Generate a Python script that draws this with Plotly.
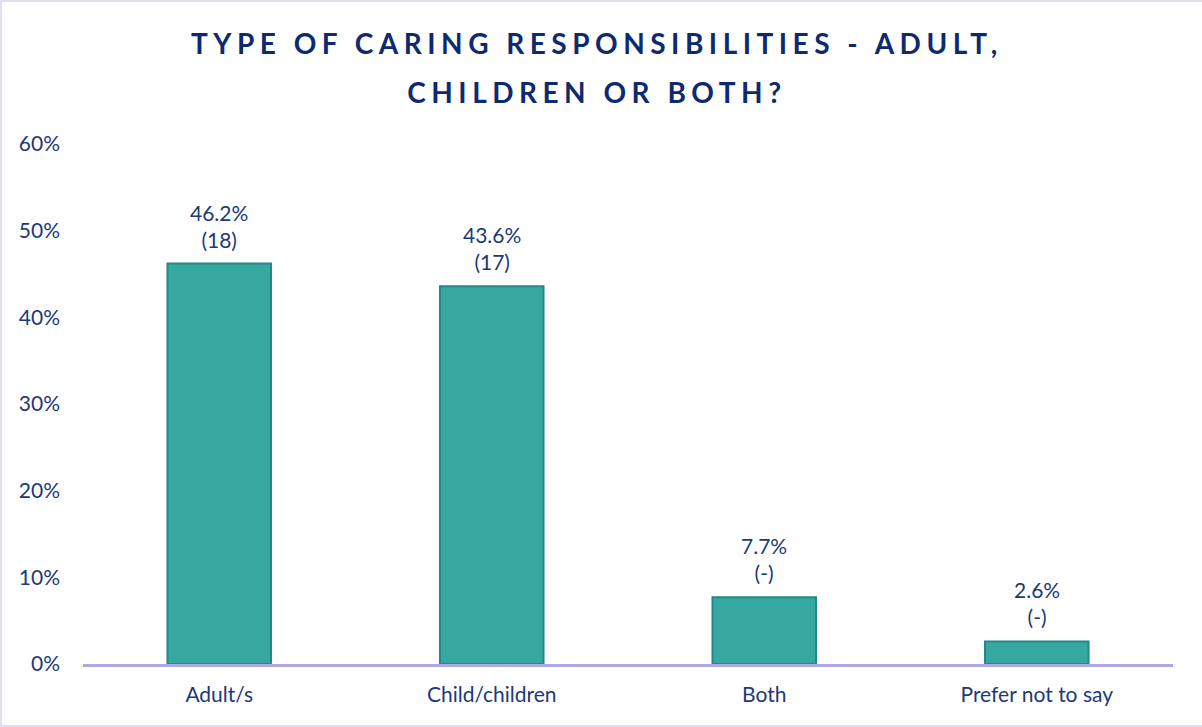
import plotly.graph_objects as go

categories = ["Adult/s", "Child/children", "Both", "Prefer not to say"]
percent_values = [46.2, 43.6, 7.7, 2.6]
counts = ["18", "17", "-", "-"]
y_tick_values = [0, 10, 20, 30, 40, 50, 60]
y_tick_labels = ["0%", "10%", "20%", "30%", "40%", "50%", "60%"]
title_lines = ["TYPE OF CARING RESPONSIBILITIES - ADULT,", "CHILDREN OR BOTH?"]

W, H = 1202, 727
ml, mr, mt, mb = 83, 29, 144, 63
pw = W - ml - mr
ph = H - mt - mb

text_color = "#1c3978"
title_color = "#0d2a6f"
font_family = "Lato, 'Open Sans', sans-serif"

fig = go.Figure(
    go.Bar(
        x=categories,
        y=percent_values,
        marker=dict(color="#36a89f", line=dict(color="#22898a", width=2)),
        width=0.38,
        hoverinfo="skip",
    )
)

# value labels above bars
for cat, v, c in zip(categories, percent_values, counts):
    fig.add_annotation(
        x=cat, y=v, xref="x", yref="y",
        text=f"{v}%<br>({c})", showarrow=False,
        yanchor="bottom", yshift=10,
        font=dict(size=21, color=text_color, family=font_family),
    )

# title lines
for i, line in enumerate(title_lines):
    py = 43 + 49 * i  # pixel centre from top
    fig.add_annotation(
        xref="paper", yref="paper",
        x=0.5 + (W / 2 - ml - pw / 2) / pw - 4 / pw, y=1 + (mt - py) / ph,
        text=f"<b>{line}</b>", showarrow=False,
        xanchor="center", yanchor="middle",
        font=dict(size=28, color=title_color, family=font_family),
    )

# outer border (left, top, bottom visible)
fig.add_shape(
    type="rect", xref="paper", yref="paper",
    x0=(1 - ml) / pw, x1=(W + 2 - ml) / pw,
    y0=-(mb - 1) / ph, y1=1 + (mt - 1) / ph,
    line=dict(color="#d8d4f0", width=1.5), fillcolor="rgba(0,0,0,0)", layer="below",
)

fig.update_layout(
    width=W, height=H,
    margin=dict(l=ml, r=mr, t=mt, b=mb),
    paper_bgcolor="white", plot_bgcolor="white",
    showlegend=False,
    xaxis=dict(
        showgrid=False, showline=True, linecolor="#b0a8e0", linewidth=3,
        ticks="", tickfont=dict(size=21, color=text_color, family=font_family),
        ticklabelstandoff=10,
    ),
    yaxis=dict(
        range=[0, 60], tickvals=y_tick_values, ticktext=y_tick_labels,
        showgrid=False, zeroline=False, showline=False,
        tickfont=dict(size=21, color=text_color, family=font_family),
        ticklabelstandoff=22,
    ),
)

post = """
document.body.style.margin = '0';
document.querySelectorAll('text.annotation-text').forEach(function(t){
  if (t.textContent.indexOf('TYPE OF') === 0 || t.textContent.indexOf('CHILDREN OR') === 0) {
    t.style.letterSpacing = '5.5px';
  }
});
"""

fig.write_html("out.html", post_script=post, config={"displayModeBar": False})
